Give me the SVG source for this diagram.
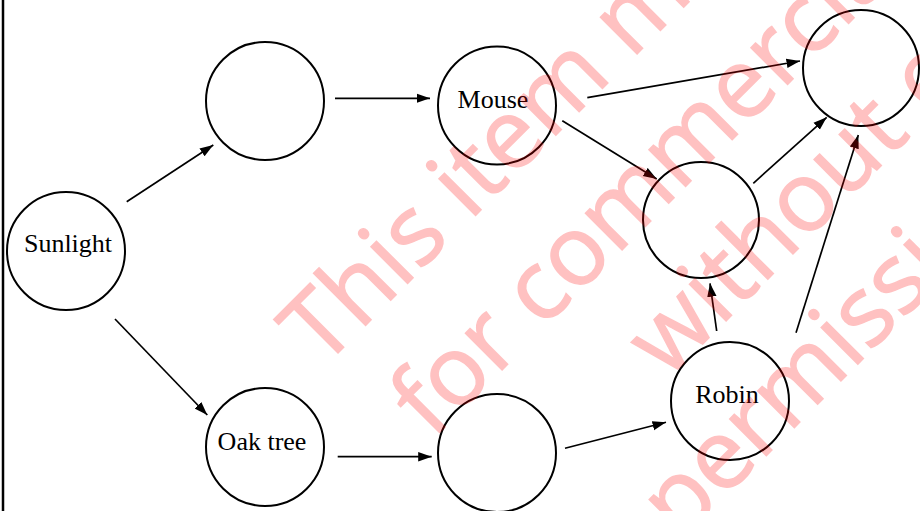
<svg xmlns="http://www.w3.org/2000/svg" width="920" height="511" viewBox="0 0 920 511">
<style>
.node circle{fill:none;stroke:#000;stroke-width:2}
.node text{font-family:"Liberation Serif","Times New Roman",serif;font-size:26px;fill:#000;text-anchor:middle}
.edges line{stroke:#000;stroke-width:1.7;marker-end:url(#ah)}
.wm{font-family:"Open Sans","DejaVu Sans",sans-serif;font-size:97px;fill:#ff0000;stroke:#ff0000;stroke-width:1.4}
</style>
<defs>
<marker id="ah" markerUnits="userSpaceOnUse" markerWidth="15" markerHeight="11" refX="13.5" refY="5" orient="auto">
<path d="M0,0.3 L13.5,5 L0,9.7 z" fill="#000"/>
</marker>
</defs>
<rect width="920" height="511" fill="#fff"/>
<line x1="3" y1="0" x2="3" y2="511" stroke="#000" stroke-width="2.5"/>
<g id="sunlight" class="node"><circle cx="66" cy="251" r="59"/><text x="68" y="252">Sunlight</text></g>
<g id="upper-blank" class="node"><circle cx="265" cy="101" r="59"/></g>
<g id="mouse" class="node"><circle cx="497" cy="105.5" r="59"/><text x="493" y="108">Mouse</text></g>
<g id="top-right-blank" class="node"><circle cx="861" cy="68" r="58"/></g>
<g id="middle-right-blank" class="node"><circle cx="701" cy="220" r="58"/></g>
<g id="robin" class="node"><circle cx="730" cy="401" r="59"/><text x="727" y="403">Robin</text></g>
<g id="oak-tree" class="node"><circle cx="265" cy="447" r="59"/><text x="262" y="450">Oak tree</text></g>
<g id="lower-blank" class="node"><circle cx="497" cy="453" r="59"/></g>
<g id="connectors" class="edges">
<line x1="126.7" y1="201.7" x2="213.3" y2="145"/>
<line x1="335" y1="98.3" x2="430" y2="98.3"/>
<line x1="587.3" y1="97.7" x2="800" y2="61"/>
<line x1="562.3" y1="120.7" x2="656.7" y2="179"/>
<line x1="753.3" y1="183.3" x2="826.7" y2="117.3"/>
<line x1="796" y1="332.7" x2="858.3" y2="135"/>
<line x1="716.7" y1="331" x2="710" y2="283.3"/>
<line x1="115" y1="319" x2="207.3" y2="415"/>
<line x1="337.7" y1="456.7" x2="431.7" y2="456.7"/>
<line x1="565" y1="448.3" x2="666" y2="422.3"/>
</g>
<g id="watermark" class="wm" opacity="0.24">
<text transform="translate(322,369) rotate(-45)">This item may not</text>
<text transform="translate(432,440) rotate(-45)">for commercial</text>
<text transform="translate(667,380) rotate(-45)">without express</text>
<text transform="translate(680,542) rotate(-45)">permission</text>
</g>
</svg>
